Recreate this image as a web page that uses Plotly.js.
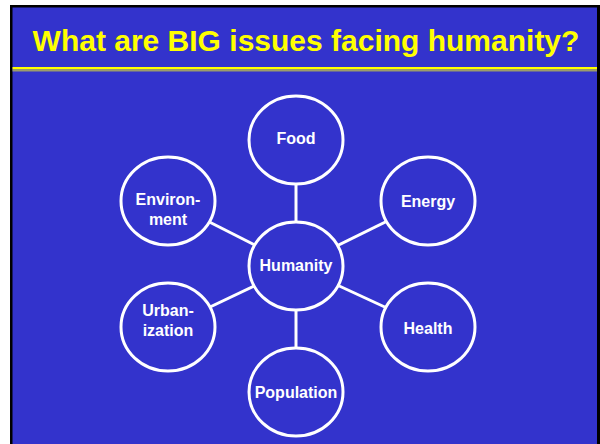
<!DOCTYPE html>
<html>
<head>
<meta charset="utf-8">
<script src="https://cdn.plot.ly/plotly-3.0.1.min.js"></script>
<style>
  html, body { margin: 0; padding: 0; background: #fff; }
  #chart { width: 600px; height: 444px; }
</style>
</head>
<body>
<div id="chart"></div>
<script>
// nodes of the diagram, hub first
const nodeNames = ['Humanity', 'Food', 'Energy', 'Health', 'Population', 'Urbanization', 'Environment'];
const nodeLabels = ['Humanity', 'Food', 'Energy', 'Health', 'Population', 'Urban-<br>ization', 'Environ-<br>ment'];
const nodeX = [296, 296, 428, 428, 296, 168, 168];
const nodeY = [266, 140, 201, 327, 392, 327, 201];
const labelY = [267, 140, 203, 330, 394, 322, 211];

const titleText = 'What are BIG issues facing humanity?';

const BLUE = '#3333cc';
const FONT = '"Liberation Sans", Arial, sans-serif';
const RX = 47, RY = 44;

const shapes = [];
// slide frame
shapes.push({ type: 'rect', xref: 'x', yref: 'y', x0: 10, x1: 600, y0: 5, y1: 450,
    fillcolor: '#000', line: { width: 0 }, layer: 'below' });
shapes.push({ type: 'rect', xref: 'x', yref: 'y', x0: 12.5, x1: 597, y0: 7.5, y1: 450,
    fillcolor: BLUE, line: { width: 0 }, layer: 'below' });
// rule under the title
shapes.push({ type: 'rect', xref: 'x', yref: 'y', x0: 12.5, x1: 597, y0: 67, y1: 69.5,
    fillcolor: '#ffff00', line: { width: 0 }, layer: 'below' });
shapes.push({ type: 'rect', xref: 'x', yref: 'y', x0: 12.5, x1: 597, y0: 69.5, y1: 71.5,
    fillcolor: '#9c9c6a', line: { width: 0 }, layer: 'below' });

// spokes from the hub (drawn first so the circles cover their ends)
for (let i = 1; i < nodeNames.length; i++) {
    shapes.push({ type: 'line', xref: 'x', yref: 'y',
        x0: nodeX[0], y0: nodeY[0], x1: nodeX[i], y1: nodeY[i],
        line: { color: '#fff', width: 3 }, layer: 'below' });
}
// circles
nodeNames.forEach((n, i) => {
    shapes.push({ type: 'circle', xref: 'x', yref: 'y',
        x0: nodeX[i] - RX, x1: nodeX[i] + RX, y0: nodeY[i] - RY, y1: nodeY[i] + RY,
        fillcolor: BLUE, line: { color: '#fff', width: 3 }, layer: 'below' });
});

const labels = {
    x: nodeX,
    y: labelY,
    text: nodeLabels,
    name: 'nodes',
    mode: 'text',
    type: 'scatter',
    textposition: 'middle center',
    textfont: { family: FONT, size: 16, color: '#fff', weight: 'bold' },
    hoverinfo: 'skip',
    showlegend: false
};

const layout = {
    width: 600,
    height: 444,
    margin: { l: 0, r: 0, t: 0, b: 0 },
    paper_bgcolor: '#fff',
    plot_bgcolor: '#fff',
    title: {
        text: '<b>' + titleText + '</b>',
        font: { family: FONT, size: 30, color: '#ffff00' },
        x: 306 / 600, xanchor: 'center',
        y: 1 - 40 / 444, yanchor: 'middle'
    },
    xaxis: { range: [0, 600], visible: false, fixedrange: true },
    yaxis: { range: [444, 0], visible: false, fixedrange: true },
    shapes: shapes,
    showlegend: false
};

Plotly.newPlot('chart', [labels], layout, { displayModeBar: false, staticPlot: true });
</script>
</body>
</html>
